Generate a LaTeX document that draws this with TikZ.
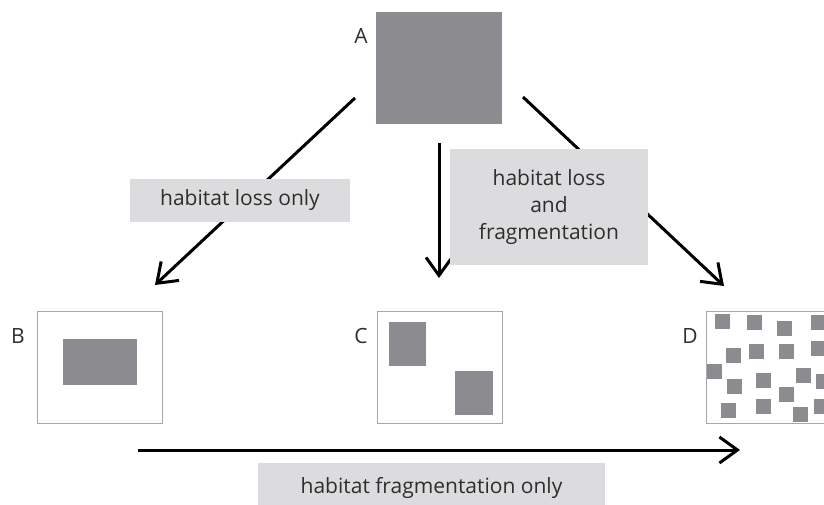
\documentclass[tikz,border=0pt]{standalone}
\usepackage{fontspec}
\setmainfont{Open Sans}
\usepackage{tikz}
\usepackage{xcolor}
\usetikzlibrary{arrows.meta}

\definecolor{patchgray}{HTML}{8C8B90}
\definecolor{taggray}{HTML}{DCDCDE}
\definecolor{framegray}{HTML}{A8A8A8}
\definecolor{inkgray}{HTML}{2E2E2E}

\begin{document}
\begin{tikzpicture}[x=1pt,y=-1pt,
    patch/.style={fill=patchgray,draw=none},
    land/.style={draw=framegray,line width=1pt,fill=white,inner sep=0pt,minimum width=125pt,minimum height=112pt},
    tag/.style={fill=taggray,text=inkgray,inner sep=0pt,align=center,font=\fontsize{21}{27}\selectfont},
    letter/.style={text=inkgray,inner sep=0pt,font=\fontsize{21}{24}\selectfont},
    arr/.style={line width=3pt,-{Straight Barb[length=18pt,width=26pt,line width=3pt]}}]
\clip (0,0) rectangle (824,505);

% landscapes
\node[patch,minimum width=126pt,minimum height=112pt,inner sep=0pt] (habA) at (439,68) {};
\node[land] (habB) at (99.5,367) {};
\node[land] (habC) at (439.5,367) {};
\node[land] (habD) at (768.5,367) {};
\node[letter] (lblA) at (361,36) {A};
\node[letter] (lblB) at (18,336) {B};
\node[letter] (lblC) at (361,336) {C};
\node[letter] (lblD) at (690,336) {D};

\fill[patchgray] (63,339) rectangle (137,385);
\fill[patchgray] (389,322) rectangle (426,366);
\fill[patchgray] (455,371) rectangle (493,415);
\foreach \x/\y in {
    715/314, 747/315, 777/321, 811/315,
    726/348, 749/344, 779/344, 811/341,
    707/364, 727/379, 756/373, 796/368, 816/374,
    721/403, 756/399, 779/387, 793/407, 814/399
}{
    \fill[patchgray] (\x,\y) rectangle +(14.5,14.5);
}
\draw[framegray,line width=1pt] (706,311) rectangle (831,423);

% arrows
\coordinate (lossS) at (355,98);
\coordinate (lossE) at (155,285);
\coordinate (midS) at (439,143);
\coordinate (midE) at (439,278);
\coordinate (fragS) at (523,97);
\coordinate (fragE) at (724,286);
\coordinate (onlyS) at (138,450);
\coordinate (onlyE) at (740,450);
\draw[arr] (lossS) -- (lossE);
\draw[arr] (midS) -- (midE);
\draw[arr] (fragS) -- (fragE);
\draw[arr] (onlyS) -- (onlyE);

% labels
\node[tag,minimum width=220pt,minimum height=43pt] (lossonly) at (240,200.5) {habitat loss only};
\node[tag,minimum width=198pt,minimum height=116pt] (lossfrag) at (549,207) {habitat loss\\and\\fragmentation};
\node[tag,minimum width=347pt,minimum height=50pt] (fragonly) at (431.5,488) {habitat fragmentation only};
\end{tikzpicture}
\end{document}
